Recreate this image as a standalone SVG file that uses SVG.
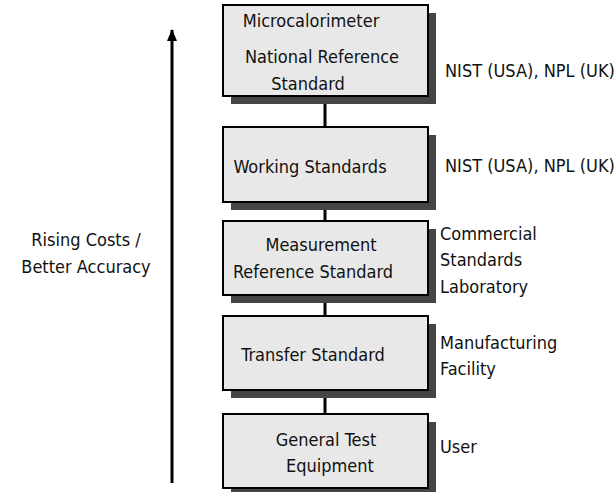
<svg xmlns="http://www.w3.org/2000/svg" width="616" height="492" viewBox="0 0 616 492">
<defs>
<marker id="ah" markerWidth="12" markerHeight="10" refX="11" refY="5" orient="auto" markerUnits="userSpaceOnUse"><path d="M0,0 L12,5 L0,10 Z" fill="#000"/></marker>
</defs>
<style>
text{font-family:"Liberation Sans Narrow","DejaVu Sans Condensed","Liberation Sans",sans-serif;font-size:18px;fill:#111}
.c{text-anchor:middle}
.box{fill:#e8e8e8;stroke:#000;stroke-width:2}
.sh{fill:#454545}
.con{stroke:#000;stroke-width:3;fill:none}
</style>
<rect width="616" height="492" fill="#fff"/>
<g id="connectors">
<line class="con" x1="325" y1="96" x2="325" y2="127"/>
<line class="con" x1="325" y1="202" x2="325" y2="221"/>
<line class="con" x1="325" y1="295" x2="325" y2="316"/>
<line class="con" x1="325" y1="390" x2="325" y2="414"/>
<line class="con" x1="172" y1="483" x2="172" y2="30" marker-end="url(#ah)"/>
</g>
<g id="n1">
<rect class="sh" x="231" y="13" width="205" height="91"/>
<rect class="box" x="223" y="5" width="205" height="91"/>
<text class="c" x="311" y="27">Microcalorimeter</text>
<text class="c" x="322" y="63">National Reference</text>
<text class="c" x="308" y="90">Standard</text>
</g>
<g id="n2">
<rect class="sh" x="231" y="135" width="205" height="75"/>
<rect class="box" x="223" y="127" width="205" height="75"/>
<text class="c" x="310" y="173">Working Standards</text>
</g>
<g id="n3">
<rect class="sh" x="231" y="229" width="205" height="74"/>
<rect class="box" x="223" y="221" width="205" height="74"/>
<text class="c" x="321" y="251">Measurement</text>
<text class="c" x="313" y="278">Reference Standard</text>
</g>
<g id="n4">
<rect class="sh" x="231" y="324" width="205" height="74"/>
<rect class="box" x="223" y="316" width="205" height="74"/>
<text class="c" x="313" y="361">Transfer Standard</text>
</g>
<g id="n5">
<rect class="sh" x="231" y="422" width="205" height="74"/>
<rect class="box" x="223" y="414" width="205" height="74"/>
<text class="c" x="326" y="446">General Test</text>
<text class="c" x="330" y="472">Equipment</text>
</g>
<g id="labels">
<text x="445" y="77">NIST (USA), NPL (UK)</text>
<text x="445" y="172">NIST (USA), NPL (UK)</text>
<text x="440" y="240">Commercial</text>
<text x="440" y="266">Standards</text>
<text x="440" y="293">Laboratory</text>
<text x="440" y="349">Manufacturing</text>
<text x="440" y="375">Facility</text>
<text x="440" y="453">User</text>
<text class="c" x="86" y="246">Rising Costs /</text>
<text class="c" x="86" y="273">Better Accuracy</text>
</g>
</svg>
